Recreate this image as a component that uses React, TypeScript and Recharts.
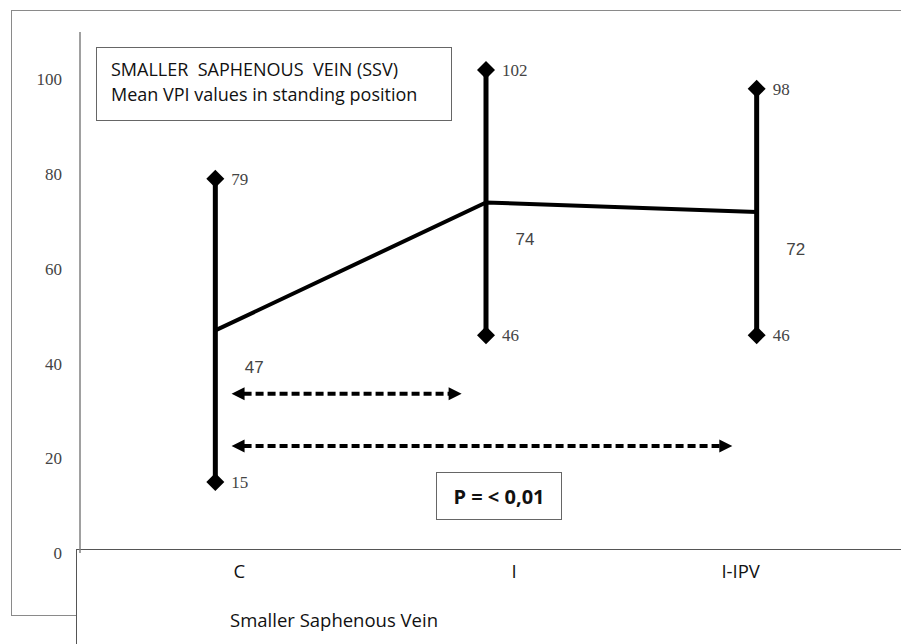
import {
  ComposedChart,
  Line,
  Scatter,
  ErrorBar,
  XAxis,
  YAxis,
  ReferenceLine,
  LabelList,
} from "recharts";

const categories = ["C", "I", "I-IPV"];
const meanValues = [47, 74, 72];
const highValues = [79, 102, 98];
const lowValues = [15, 46, 46];
const yTicks = [0, 20, 40, 60, 80, 100];

// comparison arrows (C -> I and C -> I-IPV), in data units
const arrowFrom = [0.06, 0.06];
const arrowTo = [0.91, 1.91];
const arrowLevel = [33.6, 22.6];

// category labels sit a bit off the data columns in the original
const tickShift = [24, 28, -16];

const rows = categories.map((name, i) => ({
  x: i,
  name,
  mean: meanValues[i],
  high: highValues[i],
  low: lowValues[i],
  err: [meanValues[i] - lowValues[i], highValues[i] - meanValues[i]],
}));

const serif = "'Liberation Serif', 'DejaVu Serif', serif";
const sans = "'Open Sans', 'Noto Sans', sans-serif";

const makeDiamond = (key: "high" | "low") => (props: any) => {
  const { cx, cy, payload } = props;
  if (cx == null || cy == null) return <g />;
  const r = 9;
  return (
    <g>
      <polygon
        points={`${cx},${cy - r} ${cx + r},${cy} ${cx},${cy + r} ${cx - r},${cy}`}
        fill="#000"
      />
      <text
        x={cx + 16}
        y={cy}
        dy="0.35em"
        fontFamily={serif}
        fontSize={17}
        fill="#444"
      >
        {payload[key]}
      </text>
    </g>
  );
};

const MeanLabel = (props: any) => {
  const { x, y, value } = props;
  return (
    <text
      x={x + 39}
      y={y + 37}
      dy="0.35em"
      textAnchor="middle"
      fontFamily="'Liberation Sans', Arial, sans-serif"
      fontSize={17}
      fill="#444"
    >
      {value}
    </text>
  );
};

const DashedArrow = (props: any) => {
  const { x1, y1, x2 } = props;
  const head = 13;
  const half = 6.5;
  return (
    <g>
      <line
        x1={x1 + head - 1}
        y1={y1}
        x2={x2 - head + 1}
        y2={y1}
        stroke="#000"
        strokeWidth={4}
        strokeDasharray="8 4"
      />
      <polygon
        points={`${x1},${y1} ${x1 + head},${y1 - half} ${x1 + head},${y1 + half}`}
        fill="#000"
      />
      <polygon
        points={`${x2},${y1} ${x2 - head},${y1 - half} ${x2 - head},${y1 + half}`}
        fill="#000"
      />
    </g>
  );
};

const CategoryTick = (props: any) => {
  const { x, y, payload, index } = props;
  return (
    <text
      x={x + (tickShift[index] ?? 0)}
      y={y}
      dy="0.71em"
      textAnchor="middle"
      fontFamily={sans}
      fontSize={18.5}
      fill="#111"
    >
      {categories[payload.value]}
    </text>
  );
};

export default function App() {
  return (
    <div
      style={{
        position: "absolute",
        left: 0,
        top: 0,
        width: 901,
        height: 644,
        background: "#fff",
        overflow: "hidden",
      }}
    >
      {/* outer frame */}
      <div
        style={{
          position: "absolute",
          left: 11,
          top: 10,
          width: 920,
          height: 606,
          border: "1px solid #8a8a8a",
          boxSizing: "border-box",
        }}
      />
      {/* axis box at the bottom */}
      <div
        style={{
          position: "absolute",
          left: 76,
          top: 549,
          width: 900,
          height: 120,
          border: "1px solid #555",
          background: "#fff",
          boxSizing: "border-box",
        }}
      />
      <div
        style={{
          position: "absolute",
          left: 230,
          top: 607,
          fontFamily: sans,
          fontSize: 18.5,
          color: "#111",
          whiteSpace: "nowrap",
        }}
      >
        Smaller Saphenous Vein
      </div>

      <div style={{ position: "absolute", left: 0, top: 0 }}>
        <ComposedChart
          width={901}
          height={644}
          data={rows}
          margin={{ top: 32, right: 9, left: 0, bottom: 0 }}
        >
          <XAxis
            dataKey="x"
            type="number"
            domain={[-0.5, 2.5]}
            ticks={[0, 1, 2]}
            axisLine={false}
            tickLine={false}
            tickSize={0}
            tickMargin={12}
            height={91}
            tick={<CategoryTick />}
            interval={0}
          />
          <YAxis
            type="number"
            domain={[0, 110]}
            ticks={yTicks}
            width={80}
            axisLine={{ stroke: "#808080", strokeWidth: 1.5 }}
            tickLine={false}
            tickSize={0}
            tickMargin={18}
            tick={{ fontFamily: serif, fontSize: 17, fill: "#444" }}
          />
          {arrowFrom.map((from, i) => (
            <ReferenceLine
              key={i}
              segment={[
                { x: from, y: arrowLevel[i] },
                { x: arrowTo[i], y: arrowLevel[i] },
              ]}
              shape={<DashedArrow />}
              ifOverflow="visible"
            />
          ))}
          <Line
            dataKey="mean"
            type="linear"
            stroke="#000"
            strokeWidth={4}
            dot={false}
            activeDot={false}
            isAnimationActive={false}
          >
            <ErrorBar
              dataKey="err"
              direction="y"
              width={0}
              stroke="#000"
              strokeWidth={5}
              isAnimationActive={false}
            />
            <LabelList dataKey="mean" content={<MeanLabel />} />
          </Line>
          <Scatter
            dataKey="high"
            shape={makeDiamond("high")}
            isAnimationActive={false}
          />
          <Scatter
            dataKey="low"
            shape={makeDiamond("low")}
            isAnimationActive={false}
          />
        </ComposedChart>
      </div>

      {/* title box */}
      <div
        style={{
          position: "absolute",
          left: 96,
          top: 47,
          width: 356,
          height: 74,
          border: "1px solid #666",
          boxSizing: "border-box",
          background: "#fff",
          padding: "9px 0 0 14px",
          fontFamily: sans,
          fontSize: 18,
          lineHeight: "25px",
          color: "#111",
          whiteSpace: "pre",
        }}
      >
        {"SMALLER  SAPHENOUS  VEIN (SSV)\nMean VPI values in standing position"}
      </div>

      {/* significance box */}
      <div
        style={{
          position: "absolute",
          left: 436,
          top: 472,
          width: 126,
          height: 48,
          border: "1px solid #666",
          boxSizing: "border-box",
          background: "#fff",
          display: "flex",
          alignItems: "center",
          justifyContent: "center",
          fontFamily: sans,
          fontSize: 20,
          fontWeight: 700,
          color: "#111",
          whiteSpace: "pre",
        }}
      >
        P = &lt; 0,01
      </div>
    </div>
  );
}
